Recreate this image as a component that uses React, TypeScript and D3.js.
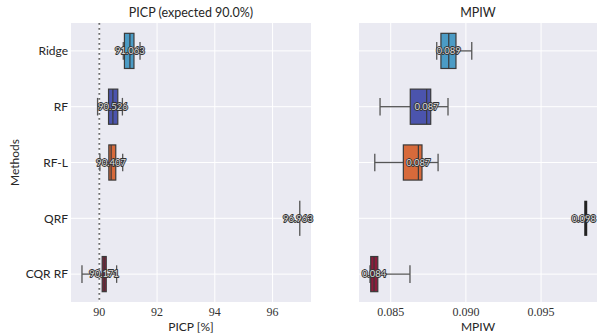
import React from "react";
import * as d3 from "d3";

const methods = ["Ridge", "RF", "RF-L", "QRF", "CQR RF"];
const colors = ["#4b9bc5", "#4b54ad", "#d76a3b", "#25252f", "#8c1c3b"];

// PICP stats: whisker low, q1, median, q3, whisker high
const picpLow = [90.83, 89.94, 90.02, 96.94, 89.4];
const picpQ1 = [90.87, 90.32, 90.33, 96.94, 90.1];
const picpMed = [91.06, 90.47, 90.41, 96.94, 90.17];
const picpQ3 = [91.2, 90.64, 90.57, 96.94, 90.24];
const picpHigh = [91.41, 90.8, 90.81, 96.94, 90.6];
const picpLabels = ["91.063", "90.526", "90.407", "96.963", "90.171"];

const mpiwLow = [0.08806, 0.08429, 0.08394, 0.09797, 0.08362];
const mpiwQ1 = [0.08834, 0.0863, 0.08584, 0.09797, 0.08367];
const mpiwMed = [0.08886, 0.08739, 0.08684, 0.09797, 0.08389];
const mpiwQ3 = [0.08934, 0.08766, 0.08708, 0.09797, 0.08414];
const mpiwHigh = [0.09039, 0.08881, 0.08815, 0.09797, 0.08628];
const mpiwLabels = ["0.089", "0.087", "0.087", "0.098", "0.084"];

const picpTicks = [90, 92, 94, 96];
const mpiwTicks = [0.085, 0.09, 0.095];
const expected = 90.0;

const top = 23;
const bottom = 302;
const sans = "Lato, 'Open Sans', sans-serif";
const serif = "'Liberation Serif', 'DejaVu Serif', serif";

type PanelProps = {
  x0: number;
  x1: number;
  domain: [number, number];
  ticks: number[];
  fmt: (v: number) => string;
  low: number[];
  q1: number[];
  med: number[];
  q3: number[];
  high: number[];
  labels: string[];
  title: string;
  xlabel: string;
  refLine?: number;
  showY: boolean;
};

function Panel(p: PanelProps) {
  const x = d3.scaleLinear().domain(p.domain).range([p.x0, p.x1]);
  const y = d3.scaleBand<string>().domain(methods).range([top, bottom]).padding(0);
  const bw = y.bandwidth() * 0.63;
  const capH = bw * 0.5;
  return (
    <g>
      <rect x={p.x0} y={top} width={p.x1 - p.x0} height={bottom - top} fill="#eaeaf2" />
      {p.ticks.map((t) => (
        <line key={"gx" + t} x1={x(t)} x2={x(t)} y1={top} y2={bottom} stroke="#fff" strokeWidth={1} />
      ))}
      {methods.map((m) => {
        const cy = (y(m) as number) + y.bandwidth() / 2;
        return <line key={"gy" + m} x1={p.x0} x2={p.x1} y1={cy} y2={cy} stroke="#fff" strokeWidth={1} />;
      })}
      {p.refLine !== undefined && (
        <line x1={x(p.refLine)} x2={x(p.refLine)} y1={top} y2={bottom} stroke="#6a6a6a" strokeWidth={1.8} strokeDasharray="1.8,3.2" />
      )}
      {methods.map((m, i) => {
        const cy = (y(m) as number) + y.bandwidth() / 2;
        const degenerate = p.q3[i] - p.q1[i] === 0;
        const lx = Math.min(x(p.med[i]), p.x1 - 13);
        return (
          <g key={m}>
            <line x1={x(p.low[i])} x2={x(p.q1[i])} y1={cy} y2={cy} stroke="#555" strokeWidth={1.3} />
            <line x1={x(p.q3[i])} x2={x(p.high[i])} y1={cy} y2={cy} stroke="#555" strokeWidth={1.3} />
            {!degenerate && (
              <>
                <line x1={x(p.low[i])} x2={x(p.low[i])} y1={cy - capH / 2} y2={cy + capH / 2} stroke="#555" strokeWidth={1.3} />
                <line x1={x(p.high[i])} x2={x(p.high[i])} y1={cy - capH / 2} y2={cy + capH / 2} stroke="#555" strokeWidth={1.3} />
              </>
            )}
            {degenerate ? (
              <line x1={x(p.med[i])} x2={x(p.med[i])} y1={cy - bw / 2} y2={cy + bw / 2} stroke={p.refLine === undefined ? "#222" : "#666"} strokeWidth={p.refLine === undefined ? 3 : 1.5} />
            ) : (
              <>
                <rect x={x(p.q1[i])} y={cy - bw / 2} width={x(p.q3[i]) - x(p.q1[i])} height={bw} fill={colors[i]} stroke="#3a3a3a" strokeWidth={1.2} />
                <line x1={x(p.med[i])} x2={x(p.med[i])} y1={cy - bw / 2} y2={cy + bw / 2} stroke="#3a3a3a" strokeWidth={1.2} />
              </>
            )}
            <text x={lx} y={cy} dy="0.35em" textAnchor="middle" fontFamily={sans} fontSize={9.5}
              fill="#dcdcdc" stroke="#333" strokeWidth={1.8} paintOrder="stroke" strokeLinejoin="round">
              {p.labels[i]}
            </text>
          </g>
        );
      })}
      {p.showY &&
        methods.map((m) => {
          const cy = (y(m) as number) + y.bandwidth() / 2;
          return (
            <text key={"yl" + m} x={p.x0 - 3} y={cy} dy="0.35em" textAnchor="end" fontFamily={sans} fontSize={12} fill="#262626">
              {m}
            </text>
          );
        })}
      {p.ticks.map((t) => (
        <text key={"tx" + t} x={x(t)} y={bottom + 14} textAnchor="middle" fontFamily={serif} fontSize={12} fill="#333">
          {p.fmt(t)}
        </text>
      ))}
      <text x={(p.x0 + p.x1) / 2} y={bottom + 29} textAnchor="middle" fontFamily={sans} fontSize={12} fill="#262626">
        {p.xlabel}
      </text>
      <text x={(p.x0 + p.x1) / 2} y={top - 6} textAnchor="middle" fontFamily={sans} fontSize={12.5} fill="#262626">
        {p.title}
      </text>
    </g>
  );
}

export default function App() {
  return (
    <svg width={597} height={333} style={{ position: "absolute", left: 0, top: 0, background: "#fff" }}>
      <Panel x0={71} x1={311} domain={[89.02, 97.33]} ticks={picpTicks} fmt={(v) => String(v)}
        low={picpLow} q1={picpQ1} med={picpMed} q3={picpQ3} high={picpHigh} labels={picpLabels}
        title="PICP (expected 90.0%)" xlabel="PICP [%]" refLine={expected} showY={true} />
      <Panel x0={359} x1={597} domain={[0.08289, 0.09872]} ticks={mpiwTicks} fmt={(v) => d3.format(".3f")(v)}
        low={mpiwLow} q1={mpiwQ1} med={mpiwMed} q3={mpiwQ3} high={mpiwHigh} labels={mpiwLabels}
        title="MPIW" xlabel="MPIW" showY={false} />
      <text transform={`translate(15,${(top + bottom) / 2}) rotate(-90)`} textAnchor="middle" dy="0.35em" fontFamily={sans} fontSize={12} fill="#262626">
        Methods
      </text>
    </svg>
  );
}
